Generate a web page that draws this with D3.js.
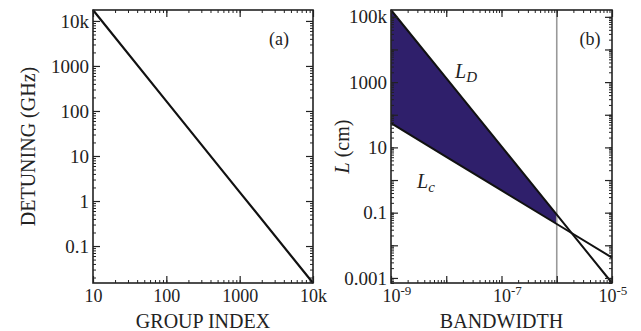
<!DOCTYPE html>
<html><head><meta charset="utf-8">
<script src="https://cdn.jsdelivr.net/npm/d3@7"></script>
<style>
body{margin:0;background:#fff;}
text{font-family:"Liberation Serif","Times New Roman",serif;fill:#222;}
</style></head>
<body><svg id="c" width="641" height="331"></svg>
<script>
// Panel (a)
const groupIndex = [10, 100, 1000, 10000];
const detuning = [17500, 166, 1.58, 0.0151];
const aXTicks = [10, 100, 1000, 10000];
const aXLabels = ["10", "100", "1000", "10k"];
const aYTicks = [10000, 1000, 100, 10, 1, 0.1];
const aYLabels = ["10k", "1000", "100", "10", "1", "0.1"];
// Panel (b)
const bandwidth = [1e-9, 1e-8, 1e-7, 1e-6, 1e-5];
const lengthD = [162000, 1320, 10.7, 0.087, 0.0007];
const lengthC = [55, 5.1, 0.48, 0.045, 0.0042];
const cutoffBandwidth = 1e-6;
const bXTicks = [1e-9, 1e-7, 1e-5];
const bXExp = ["-9", "-7", "-5"];
const bYTicks = [1e5, 1e3, 10, 0.1, 0.001];
const bYLabels = ["100k", "1000", "10", "0.1", "0.001"];

const svg = d3.select("#c");
const fsXTick = 18, fsYTick = 19, fsTitle = 20;

function minorTicks(dom){
  const lo = Math.floor(Math.log10(dom[0])), hi = Math.ceil(Math.log10(dom[1]));
  const out = [];
  for (let e = lo; e <= hi; e++) for (let k = 1; k <= 9; k++){
    const v = k * Math.pow(10, e);
    if (v >= dom[0]*0.999 && v <= dom[1]*1.001) out.push(v);
  }
  return out;
}
function majorTicks(dom){
  const out = [];
  for (let e = Math.ceil(Math.log10(dom[0])); e <= Math.floor(Math.log10(dom[1])); e++) out.push(Math.pow(10, e));
  return out;
}

function frame(g, x, y, X0, X1, Y0, Y1){
  const xd = x.domain(), yd = y.domain();
  const xm = minorTicks(xd), ym = minorTicks(yd);
  const xM = majorTicks(xd), yM = majorTicks(yd);
  const sides = [
    [() => d3.axisBottom(x), Y0, 0, xm, xM],
    [() => d3.axisTop(x), Y1, 0, xm, xM],
    [() => d3.axisLeft(y), X0, 1, ym, yM],
    [() => d3.axisRight(y), X1, 1, ym, yM]
  ];
  sides.forEach(([mk, pos, vert, mn, mj]) => {
    const tr = vert ? `translate(${pos},0)` : `translate(0,${pos})`;
    g.append("g").attr("transform", tr)
      .call(mk().tickValues(mn).tickSize(-3).tickFormat(""))
      .call(s => { s.select(".domain").remove(); s.selectAll("line").attr("stroke","#222").attr("stroke-width",1); });
    g.append("g").attr("transform", tr)
      .call(mk().tickValues(mj).tickSize(-7).tickFormat(""))
      .call(s => { s.select(".domain").remove(); s.selectAll("line").attr("stroke","#222").attr("stroke-width",1.2); });
  });
  g.append("rect").attr("x", X0).attr("y", Y1).attr("width", X1 - X0).attr("height", Y0 - Y1)
    .attr("fill", "none").attr("stroke", "#222").attr("stroke-width", 1.6);
}
function styleLabels(s, fs){
  s.select(".domain").remove();
  s.selectAll("text").attr("font-size", fs).attr("font-family","Liberation Serif").attr("fill","#222");
}

// ---------- Panel (a)
{
  const X0 = 93, X1 = 313, Y0 = 283, Y1 = 10;
  const x = d3.scaleLog().domain([10, 10000]).range([X0, X1]);
  const y = d3.scaleLog().domain([0.0151, 17500]).range([Y0, Y1]);
  const g = svg.append("g");
  g.append("path").datum(groupIndex.map((v, i) => [v, detuning[i]]))
    .attr("d", d3.line().x(d => x(d[0])).y(d => y(d[1])))
    .attr("fill", "none").attr("stroke", "#111").attr("stroke-width", 2.2);
  frame(g, x, y, X0, X1, Y0, Y1);
  g.append("g").attr("transform", `translate(0,${Y0})`)
    .call(d3.axisBottom(x).tickValues(aXTicks).tickSize(0).tickPadding(6).tickFormat((d, i) => aXLabels[i]))
    .call(s => styleLabels(s, fsXTick));
  g.append("g").attr("transform", `translate(${X0},0)`)
    .call(d3.axisLeft(y).tickValues(aYTicks).tickSize(0).tickPadding(4).tickFormat((d, i) => aYLabels[i]))
    .call(s => styleLabels(s, fsYTick));
  g.append("text").attr("x", (X0 + X1) / 2).attr("y", 328).attr("text-anchor", "middle").attr("font-size", fsTitle).text("GROUP INDEX");
  g.append("text").attr("transform", `translate(35,${(Y0 + Y1) / 2}) rotate(-90)`).attr("text-anchor", "middle").attr("font-size", fsTitle).text("DETUNING (GHz)");
  g.append("text").attr("x", 279).attr("y", 45).attr("text-anchor", "middle").attr("font-size", 18).text("(a)");
}

// ---------- Panel (b)
{
  const X0 = 391, X1 = 612, Y0 = 283, Y1 = 10;
  const x = d3.scaleLog().domain([1e-9, 1e-5]).range([X0, X1]);
  const y = d3.scaleLog().domain([0.0007, 162000]).range([Y0, Y1]);
  const g = svg.append("g");
  const pts = bandwidth.map((b, i) => ({b, d: lengthD[i], c: lengthC[i]}));
  g.append("path").datum(pts.filter(p => p.b <= cutoffBandwidth))
    .attr("d", d3.area().x(p => x(p.b)).y0(p => y(p.c)).y1(p => y(p.d)))
    .attr("fill", "#2f1f6b");
  g.append("line").attr("x1", x(cutoffBandwidth)).attr("x2", x(cutoffBandwidth)).attr("y1", Y1).attr("y2", Y0)
    .attr("stroke", "#999").attr("stroke-width", 1.6);
  ["d", "c"].forEach(k => {
    g.append("path").datum(pts)
      .attr("d", d3.line().x(p => x(p.b)).y(p => y(p[k])))
      .attr("fill", "none").attr("stroke", "#111").attr("stroke-width", 2);
  });
  frame(g, x, y, X0, X1, Y0, Y1);
  const xl = g.append("g").attr("transform", `translate(0,${Y0})`)
    .call(d3.axisBottom(x).tickValues(bXTicks).tickSize(0).tickPadding(6).tickFormat(""))
    .call(s => s.select(".domain").remove());
  xl.selectAll(".tick").each(function(d, i){
    const t = d3.select(this).append("text").attr("y", 19).attr("x", i === 2 ? -14 : -9).attr("text-anchor", "start")
      .attr("font-size", fsXTick).attr("fill", "#222");
    t.append("tspan").text("10");
    t.append("tspan").attr("dy", -7).attr("font-size", 13).text(bXExp[i]);
  });
  g.append("g").attr("transform", `translate(${X0},0)`)
    .call(d3.axisLeft(y).tickValues(bYTicks).tickSize(0).tickPadding(4).tickFormat((d, i) => bYLabels[i]))
    .call(s => styleLabels(s, fsYTick));
  g.append("text").attr("x", (X0 + X1) / 2).attr("y", 328).attr("text-anchor", "middle").attr("font-size", fsTitle).text("BANDWIDTH");
  const yt = g.append("text").attr("transform", `translate(349,${(Y0 + Y1) / 2}) rotate(-90)`).attr("text-anchor", "middle").attr("font-size", fsTitle);
  yt.append("tspan").attr("font-style", "italic").text("L");
  yt.append("tspan").text(" (cm)");
  g.append("text").attr("x", 590).attr("y", 45).attr("text-anchor", "middle").attr("font-size", 18).text("(b)");
  const ld = g.append("text").attr("x", 455).attr("y", 78).attr("font-size", 20);
  ld.append("tspan").attr("font-style", "italic").text("L");
  ld.append("tspan").attr("font-style", "italic").attr("font-size", 15).attr("dy", 4).text("D");
  const lc = g.append("text").attr("x", 417).attr("y", 188).attr("font-size", 20);
  lc.append("tspan").attr("font-style", "italic").text("L");
  lc.append("tspan").attr("font-style", "italic").attr("font-size", 15).attr("dy", 4).text("c");
}
</script></body></html>
